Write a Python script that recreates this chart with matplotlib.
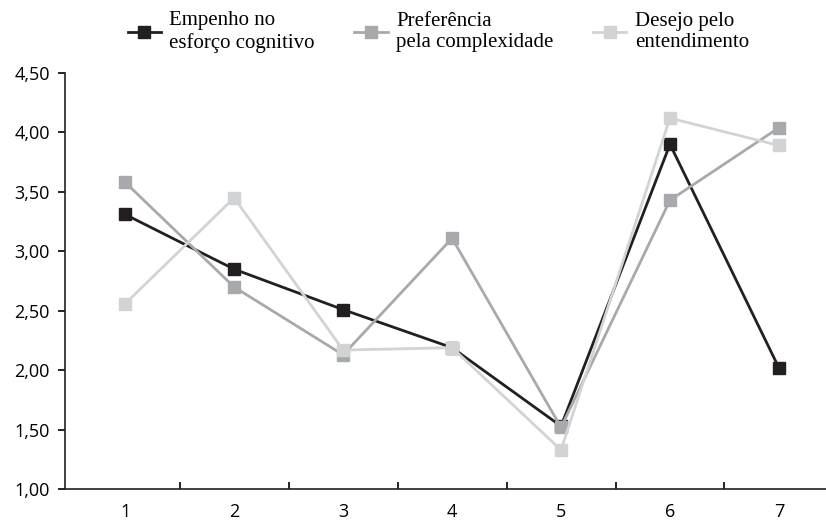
import matplotlib
matplotlib.use("Agg")
import matplotlib.pyplot as plt
from matplotlib.ticker import FuncFormatter, FixedLocator

categories = [1, 2, 3, 4, 5, 6, 7]
empenho = [3.31, 2.85, 2.51, 2.19, 1.53, 3.90, 2.02]
preferencia = [3.58, 2.70, 2.13, 3.11, 1.52, 3.43, 4.04]
desejo = [2.56, 3.45, 2.17, 2.19, 1.33, 4.12, 3.89]

labels = ["Empenho no\nesforço cognitivo",
          "Preferência\npela complexidade",
          "Desejo pelo\nentendimento"]
colors = ["#231f20", "#a7a9ac", "#d1d3d4"]

fig = plt.figure(figsize=(8.26, 5.21), dpi=100)
ax = fig.add_axes([0.079, 0.061, 0.93, 0.799])

for vals, lab, col in zip([empenho, preferencia, desejo], labels, colors):
    ax.plot(categories, vals, color=col, lw=2, marker="s", markersize=9,
            markeredgecolor=col, label=lab)

ax.set_xlim(0.45, 7.5)
ax.set_ylim(1.0, 4.5)
ax.set_yticks([1.0, 1.5, 2.0, 2.5, 3.0, 3.5, 4.0, 4.5])
ax.yaxis.set_major_formatter(FuncFormatter(lambda v, p: f"{v:.2f}".replace(".", ",")))
ax.set_xticks(categories)
ax.xaxis.set_minor_locator(FixedLocator([1.5, 2.5, 3.5, 4.5, 5.5, 6.5]))
ax.tick_params(axis="x", which="major", length=0, pad=10, labelsize=13)
ax.tick_params(axis="x", which="minor", direction="in", length=5, width=1.2)
ax.tick_params(axis="y", length=5, width=1.2, labelsize=13, pad=6)
for lbl in ax.get_xticklabels() + ax.get_yticklabels():
    lbl.set_family("Open Sans")

for s in ["top", "right"]:
    ax.spines[s].set_visible(False)
for s in ["left", "bottom"]:
    ax.spines[s].set_linewidth(1.2)
    ax.spines[s].set_color("#231f20")

ax.legend(loc="lower left", bbox_to_anchor=(0.065, 1.018), ncol=3, frameon=False,
          prop={"family": "Liberation Serif", "size": 15}, handlelength=1.6,
          handletextpad=0.4, columnspacing=1.9, borderaxespad=0.2)

fig.savefig("out.png", dpi=100)
